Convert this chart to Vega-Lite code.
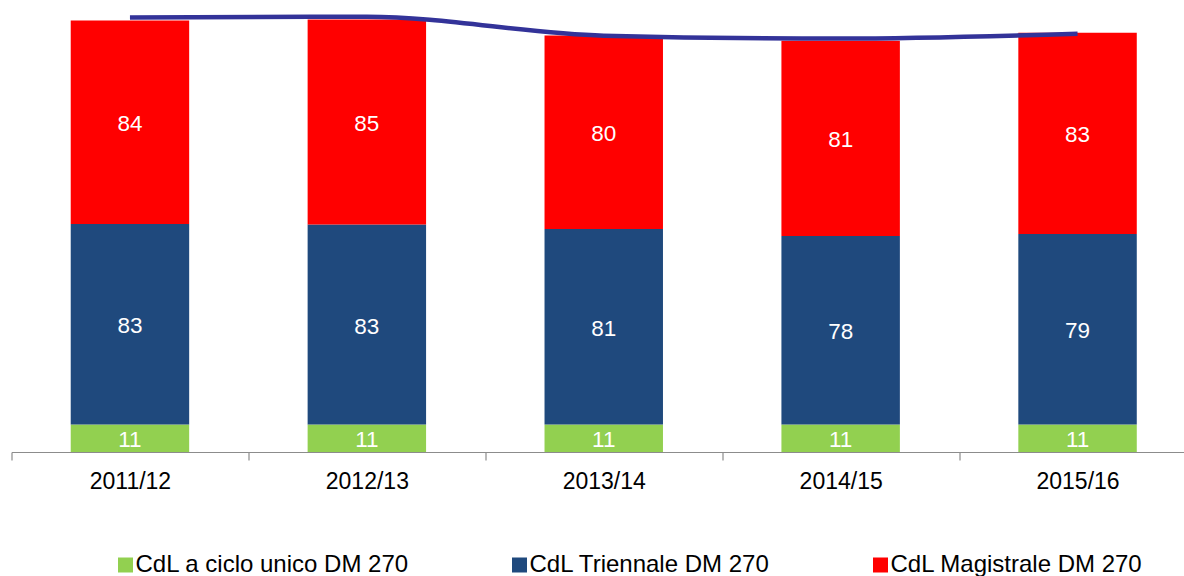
{
  "$schema": "https://vega.github.io/schema/vega-lite/v6.json",
  "autosize": "none",
  "width": 1172.5,
  "height": 452,
  "padding": {"left": 11.5, "top": 0, "right": 0, "bottom": 124},
  "background": "white",
  "config": {"view": {"stroke": null}, "font": "Liberation Sans"},
  "datasets": {
    "bars": [
      {"anno": "2011/12", "corso": "CdL a ciclo unico DM 270", "ord": 1, "valore": 11.3},
      {"anno": "2011/12", "corso": "CdL Triennale DM 270", "ord": 2, "valore": 82.8},
      {"anno": "2011/12", "corso": "CdL Magistrale DM 270", "ord": 3, "valore": 83.9},
      {"anno": "2012/13", "corso": "CdL a ciclo unico DM 270", "ord": 1, "valore": 11.3},
      {"anno": "2012/13", "corso": "CdL Triennale DM 270", "ord": 2, "valore": 82.6},
      {"anno": "2012/13", "corso": "CdL Magistrale DM 270", "ord": 3, "valore": 84.6},
      {"anno": "2013/14", "corso": "CdL a ciclo unico DM 270", "ord": 1, "valore": 11.3},
      {"anno": "2013/14", "corso": "CdL Triennale DM 270", "ord": 2, "valore": 80.7},
      {"anno": "2013/14", "corso": "CdL Magistrale DM 270", "ord": 3, "valore": 79.9},
      {"anno": "2014/15", "corso": "CdL a ciclo unico DM 270", "ord": 1, "valore": 11.3},
      {"anno": "2014/15", "corso": "CdL Triennale DM 270", "ord": 2, "valore": 77.8},
      {"anno": "2014/15", "corso": "CdL Magistrale DM 270", "ord": 3, "valore": 80.6},
      {"anno": "2015/16", "corso": "CdL a ciclo unico DM 270", "ord": 1, "valore": 11.3},
      {"anno": "2015/16", "corso": "CdL Triennale DM 270", "ord": 2, "valore": 78.7},
      {"anno": "2015/16", "corso": "CdL Magistrale DM 270", "ord": 3, "valore": 83.0}
    ],
    "totale": [
      {"anno": "2011/12", "valore": 179.3},
      {"anno": "2012/13", "valore": 179.6},
      {"anno": "2013/14", "valore": 171.8},
      {"anno": "2014/15", "valore": 170.6},
      {"anno": "2015/16", "valore": 172.6}
    ]
  },
  "layer": [
    {
      "data": {"name": "bars"},
      "mark": {"type": "bar", "width": {"band": 0.5}},
      "encoding": {
        "x": {
          "field": "anno", "type": "nominal", "sort": null,
          "scale": {"range": [0, 1184.5], "paddingInner": 0, "paddingOuter": 0},
          "axis": {
            "title": null, "labelAngle": 0, "labelFontSize": 23, "labelColor": "black",
            "labelFont": "Liberation Sans", "labelPadding": 10.5, "tickSize": 8,
            "tickColor": "#8c8c8c", "domainColor": "#8c8c8c", "tickBand": "extent",
            "domainWidth": 1.2, "tickWidth": 1.2, "grid": false
          }
        },
        "y": {
          "field": "valore", "type": "quantitative", "stack": "zero",
          "scale": {"domain": [0, 186.5], "nice": false, "zero": true},
          "axis": null
        },
        "color": {
          "field": "corso", "type": "nominal", "sort": null,
          "scale": {
            "domain": ["CdL a ciclo unico DM 270", "CdL Triennale DM 270", "CdL Magistrale DM 270"],
            "range": ["#92D050", "#1F497D", "#FF0000"]
          },
          "legend": {
            "orient": "none", "legendX": 102, "legendY": 553, "direction": "horizontal",
            "title": null, "labelFontSize": 24, "labelColor": "black", "labelFont": "Liberation Sans",
            "labelLimit": 400, "symbolType": "square", "symbolSize": 225, "symbolStrokeWidth": 0,
            "columnPadding": 98, "labelOffset": -2, "padding": 0
          }
        },
        "order": {"field": "ord", "type": "quantitative"}
      }
    },
    {
      "data": {"name": "bars"},
      "mark": {"type": "text", "color": "white", "fontSize": 22.5, "baseline": "middle", "font": "Liberation Sans", "dy": 2},
      "encoding": {
        "x": {"field": "anno", "type": "nominal", "sort": null},
        "y": {"field": "valore", "type": "quantitative", "stack": "zero", "bandPosition": 0.5},
        "detail": {"field": "corso"},
        "order": {"field": "ord", "type": "quantitative"},
        "text": {"field": "valore", "type": "quantitative", "format": ".0f"}
      }
    },
    {
      "data": {"name": "totale"},
      "mark": {"type": "line", "color": "#333399", "strokeWidth": 4.5, "interpolate": "monotone"},
      "encoding": {
        "x": {"field": "anno", "type": "nominal", "sort": null},
        "y": {"field": "valore", "type": "quantitative"}
      }
    }
  ]
}
